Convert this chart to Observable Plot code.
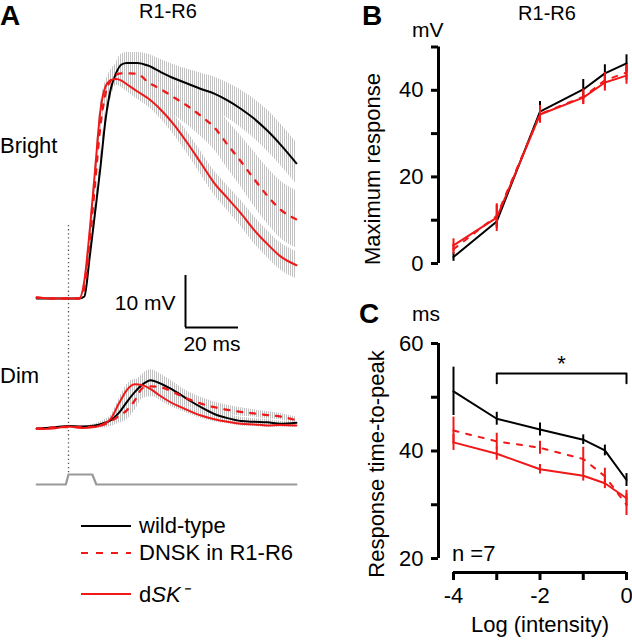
<!DOCTYPE html>
<html><head><meta charset="utf-8">
<script src="https://cdn.jsdelivr.net/npm/d3@7"></script>
<script src="https://cdn.jsdelivr.net/npm/@observablehq/plot@0.6"></script>
<style>
body{margin:0;background:#fff;}
#fig{position:relative;width:632px;height:640px;overflow:hidden;font-family:"Liberation Sans",Arial,sans-serif;}
#fig > svg{position:absolute;}
</style></head><body><div id="fig"></div>
<script>
// ---------- Panel A: averaged voltage traces (ms, mV) ----------
const brightT   = [-12, -6, 0, 4, 6, 8, 10, 12, 14, 16, 18, 20, 22, 26, 30, 35, 40, 45, 50, 55, 60, 65, 70, 75, 80, 86];
const wtBright  = [0, 0, 0, 0, 0.4, 8, 16.4, 25, 34.5, 40.4, 43.4, 45, 45.3, 45.3, 44.8, 43.5, 42.3, 41.3, 40.3, 39.4, 38.1, 36.5, 34.6, 32.3, 29.6, 26];
const wtBrightSem = [0, 0, 0, 0, 0.3, 1.5, 2, 2, 2, 2, 2, 2, 2, 2, 2.2, 2.4, 2.6, 2.8, 3, 3.2, 3.4, 3.6, 3.8, 4, 4, 4];
const dnskBright = [0.2, 0, 0, 0, 2, 11, 22, 33, 39.5, 42, 43, 43.3, 43.3, 43.2, 41.6, 40.2, 38.6, 37.0, 35.1, 32.9, 29.6, 26.4, 23.0, 19.8, 17.1, 15.2];
const dnskBrightSem = [0, 0, 0, 0, 0.5, 1.5, 2, 2, 2, 2, 2, 2, 2.2, 2.5, 2.8, 3.1, 3.4, 3.7, 4, 4.3, 4.6, 4.9, 5.2, 5.4, 5.5, 5.5];
const skBright  = [0.2, 0, 0, 0, 3.5, 13, 24.5, 36, 40.8, 42, 42.2, 41.9, 41.2, 39.8, 38.5, 36.2, 33.3, 29.8, 26.0, 22.2, 19.3, 16.4, 13.2, 10.5, 8.1, 6.4];
const skBrightSem = [0, 0, 0, 0, 0.3, 1, 1, 1, 1, 1, 1.2, 1.3, 1.4, 1.5, 1.6, 1.8, 2, 2.1, 2.2, 2.3, 2.4, 2.5, 2.6, 2.6, 2.6, 2.6];

const dimT   = [-12, -6, 0, 5, 10, 13, 16, 19, 22, 25, 28, 31, 34, 38, 42, 46, 50, 55, 60, 65, 70, 75, 80, 86];
const wtDim  = [-0.2, 0, 0.3, 0.2, 0.4, 0.8, 1.4, 2.8, 4.9, 6.8, 8.3, 9.1, 8.6, 7.6, 6.4, 5.1, 3.9, 2.6, 1.8, 1.25, 1.1, 1.0, 0.7, 0.9];
const wtDimSem = [0, 0, 0, 0, 0.3, 0.5, 0.8, 1.2, 1.6, 1.8, 2, 2, 1.9, 1.7, 1.5, 1.3, 1.1, 0.9, 0.8, 0.7, 0.6, 0.6, 0.5, 0.5];
const dnskDim = [-0.2, 0, 0.1, 0.1, 0.2, 0.5, 1.2, 2.2, 3.3, 5.2, 7.6, 7.9, 7.8, 7.2, 6.2, 5.3, 4.6, 3.9, 3.4, 3.0, 2.7, 2.4, 2.1, 1.4];
const dnskDimSem = [0, 0, 0, 0, 0.3, 0.6, 1, 1.4, 1.8, 2, 2, 2, 1.9, 1.8, 1.6, 1.4, 1.2, 1, 0.9, 0.8, 0.7, 0.7, 0.6, 0.6];
const skDim  = [-0.3, -0.2, 0.2, -0.1, 0.1, 0.6, 1.7, 4.6, 7.2, 8.3, 8.1, 7.4, 6.3, 5.0, 4.0, 3.1, 2.3, 1.6, 1.1, 0.7, 0.6, 0.4, 0.5, 0.4];
const skDimSem = [0, 0, 0, 0, 0.2, 0.4, 0.6, 0.8, 1, 1, 1, 1, 0.9, 0.8, 0.7, 0.6, 0.5, 0.5, 0.4, 0.4, 0.4, 0.4, 0.4, 0.4];

// light stimulus (on = 1)
const stimT  = [-12, -1, 0, 9, 10.5, 86];
const stimOn = [0, 0, 1, 1, 0, 0];
const scaleBar = {ms: 20, mV: 10};

// ---------- Panels B and C ----------
const logIntensity = [-4, -3, -2, -1, -0.5, 0];
const maxWT   = [1.5, 9.7, 35.1, 40.2, 43.9, 46.2];
const maxWTSem = [1.0, 1.5, 2.3, 2.3, 2.0, 2.0];
const maxDNSK = [3.3, 11.0, 34.5, 38.5, 42.3, 44.1];
const maxDNSKSem = [1.2, 2.5, 2.0, 1.8, 1.8, 1.8];
const maxSK   = [4.2, 10.6, 34.4, 38.3, 41.8, 43.4];
const maxSKSem = [1.5, 3.2, 2.0, 1.5, 2.0, 2.0];

const ttpWT   = [51.1, 46.0, 44.0, 42.1, 40.1, 34.6];
const ttpWTSem = [4.5, 1.2, 1.2, 0.9, 1.0, 1.2];
const ttpDNSK = [43.8, 41.8, 40.6, 38.5, 35.3, 30.0];
const ttpDNSKSem = [2.5, 1.5, 1.2, 2.2, 1.5, 2.0];
const ttpSK   = [41.6, 39.5, 36.6, 35.4, 34.0, 31.2];
const ttpSKSem = [1.5, 1.2, 0.9, 1.0, 1.0, 1.5];

const bTicks = [0, 10, 20, 30, 40, 50];
const cTicks = [20, 30, 40, 50, 60];
const cXTicks = [-4, -3, -2, -1, 0];
const signif = {from: -3, to: 0, level: 54.4, label: "*"};

// ---------- styles ----------
const RED = "#f01818", BLACK = "#000";
const DASH = "5,8";
const FONT = '"Liberation Sans", Arial, sans-serif';
const baseStyle = {background: "transparent", overflow: "visible", fontFamily: FONT, fontSize: "22px", color: "#000"};
const fig = document.getElementById("fig");
function place(svg, left, top){ svg.style.position="absolute"; svg.style.left=left+"px"; svg.style.top=top+"px"; fig.appendChild(svg); return svg; }

// ---------- Panel A ----------
const A = {w: 320, h: 640, flashX: 68, brightY: 298, dimY: 427, stimY: 484, pxPerMs: 2.65, pxPerMv: 5.2};
const dimShift = -(A.dimY - A.brightY) / A.pxPerMv;
const stimShift = -(A.stimY - A.brightY) / A.pxPerMv;
const stimAmp = 10 / A.pxPerMv;
function rows(ts, vs, ss, key, shift){ return ts.map((t,i)=>({t, y: vs[i]+shift, lo: vs[i]-ss[i]+shift, hi: vs[i]+ss[i]+shift, key})); }
const wtB = rows(brightT, wtBright, wtBrightSem, "wtB", 0);
const dnB = rows(brightT, dnskBright, dnskBrightSem, "dnB", 0);
const skB = rows(brightT, skBright, skBrightSem, "skB", 0);
const wtD = rows(dimT, wtDim, wtDimSem, "wtD", dimShift);
const dnD = rows(dimT, dnskDim, dnskDimSem, "dnD", dimShift);
const skD = rows(dimT, skDim, skDimSem, "skD", dimShift);
const stimRows = stimT.map((t,i)=>({t, y: stimShift + stimOn[i]*stimAmp}));
const onset = stimT[stimOn.indexOf(1)];
const bar = {t: (185 - A.flashX)/A.pxPerMs, v: (A.brightY - 327)/A.pxPerMv};
const curve = "monotone-x";

const plotA = Plot.plot({
  width: A.w, height: A.h, margin: 0,
  x: {domain: [-A.flashX/A.pxPerMs, (A.w - A.flashX)/A.pxPerMs], axis: null},
  y: {domain: [-(A.h - A.brightY)/A.pxPerMv, A.brightY/A.pxPerMv], axis: null},
  style: baseStyle,
  marks: [
    Plot.areaY([...wtB, ...dnB, ...skB, ...wtD, ...dnD, ...skD], {x: "t", y1: "lo", y2: "hi", z: "key", fill: "url(#hatch)", curve}),
    Plot.ruleX([onset], {y1: (A.brightY - 225)/A.pxPerMv, y2: stimShift + stimAmp, stroke: "#555", strokeWidth: 1.3, strokeDasharray: "1.3,2.8"}),
    Plot.line(stimRows, {x: "t", y: "y", stroke: "#999", strokeWidth: 2.2}),
    Plot.line(wtB, {x: "t", y: "y", stroke: BLACK, strokeWidth: 2, curve}),
    Plot.line(wtD, {x: "t", y: "y", stroke: BLACK, strokeWidth: 2, curve}),
    Plot.line(dnB, {x: "t", y: "y", stroke: RED, strokeWidth: 2.3, strokeDasharray: DASH, curve}),
    Plot.line(dnD, {x: "t", y: "y", stroke: RED, strokeWidth: 2.3, strokeDasharray: DASH, curve}),
    Plot.line(skB, {x: "t", y: "y", stroke: RED, strokeWidth: 2, curve}),
    Plot.line(skD, {x: "t", y: "y", stroke: RED, strokeWidth: 2, curve}),
    // scale bar
    Plot.ruleX([scaleBar], {x: () => bar.t, y1: () => bar.v, y2: d => bar.v + d.mV, stroke: BLACK, strokeWidth: 2}),
    Plot.ruleY([scaleBar], {y: () => bar.v, x1: () => bar.t, x2: d => bar.t + d.ms, stroke: BLACK, strokeWidth: 2}),
    Plot.text([scaleBar], {x: () => bar.t, y: d => bar.v + d.mV/2, text: d => `${d.mV} mV`, textAnchor: "end", dx: -10, dy: 2, fontSize: 21}),
    Plot.text([scaleBar], {x: d => bar.t + d.ms/2, y: () => bar.v, text: d => `${d.ms} ms`, dy: 17, fontSize: 21})
  ]
});
place(plotA, 0, 0);
// hatch pattern for the SEM bars
(function(){
  const NS = "http://www.w3.org/2000/svg";
  const defs = document.createElementNS(NS, "defs");
  const pat = document.createElementNS(NS, "pattern");
  pat.setAttribute("id", "hatch"); pat.setAttribute("patternUnits", "userSpaceOnUse");
  pat.setAttribute("width", "2"); pat.setAttribute("height", "8");
  const r = document.createElementNS(NS, "rect");
  r.setAttribute("x", "0"); r.setAttribute("y", "0"); r.setAttribute("width", "1"); r.setAttribute("height", "8"); r.setAttribute("fill", "#c2c2c2");
  pat.appendChild(r); defs.appendChild(pat); plotA.insertBefore(defs, plotA.firstChild);
})();

// ---------- helper for B and C ----------
function series(vals, sems, key){ return logIntensity.map((x,i)=>({x, y: vals[i], lo: vals[i]-sems[i], hi: vals[i]+sems[i], key})); }

// ---------- Panel B ----------
const B = {w: 312, h: 300, ml: 118, mr: 6, mt: 46.5, mb: 37, pxPerUnit: 43.25, axisGap: 15};
const bXDomain = [logIntensity[0] - B.axisGap/B.pxPerUnit, logIntensity[logIntensity.length-1]];
const bWT = series(maxWT, maxWTSem, "wt"), bDN = series(maxDNSK, maxDNSKSem, "dn"), bSK = series(maxSK, maxSKSem, "sk");
const plotB = Plot.plot({
  width: B.w, height: B.h, marginLeft: B.ml, marginRight: B.mr, marginTop: B.mt, marginBottom: B.mb,
  x: {domain: bXDomain, axis: null},
  y: {domain: [bTicks[0], bTicks[bTicks.length-1]]},
  style: baseStyle,
  marks: [
    Plot.ruleX([bXDomain[0]], {y1: bTicks[0], y2: bTicks[bTicks.length-1], stroke: BLACK, strokeWidth: 3}),
    Plot.axisY({ticks: bTicks, tickSize: 7, tickPadding: 8, strokeWidth: 3, label: null, fontSize: 22, tickFormat: d => d % 20 === 0 ? String(d) : ""}),
    Plot.ruleX(bWT, {x: "x", y1: "lo", y2: "hi", stroke: BLACK, strokeWidth: 2}),
    Plot.line(bWT, {x: "x", y: "y", stroke: BLACK, strokeWidth: 2}),
    Plot.ruleX(bDN, {x: "x", y1: "lo", y2: "hi", stroke: RED, strokeWidth: 2}),
    Plot.line(bDN, {x: "x", y: "y", stroke: RED, strokeWidth: 2, strokeDasharray: DASH}),
    Plot.ruleX(bSK, {x: "x", y1: "lo", y2: "hi", stroke: RED, strokeWidth: 2}),
    Plot.line(bSK, {x: "x", y: "y", stroke: RED, strokeWidth: 2})
  ]
});
place(plotB, 320, 0);

// ---------- Panel C ----------
const C = {w: 312, h: 350, ml: 118, mr: 6, mt: 53, mb: 68, pxPerUnit: 43.25, axisGap: 15, pxPerMs: 5.376, xAxisGap: 14};
const cXDomain = [logIntensity[0] - C.axisGap/C.pxPerUnit, logIntensity[logIntensity.length-1]];
const cYDomain = [cTicks[0] - C.xAxisGap/C.pxPerMs, cTicks[cTicks.length-1]];
const cWT = series(ttpWT, ttpWTSem, "wt"), cDN = series(ttpDNSK, ttpDNSKSem, "dn"), cSK = series(ttpSK, ttpSKSem, "sk");
const bracket = [
  {x: signif.from, y: signif.level - 1.8}, {x: signif.from, y: signif.level},
  {x: signif.to, y: signif.level}, {x: signif.to, y: signif.level - 1.8}
];
const plotC = Plot.plot({
  width: C.w, height: C.h, marginLeft: C.ml, marginRight: C.mr, marginTop: C.mt, marginBottom: C.mb,
  x: {domain: cXDomain},
  y: {domain: cYDomain},
  style: baseStyle,
  marks: [
    Plot.ruleX([cXDomain[0]], {y1: cTicks[0], y2: cTicks[cTicks.length-1], stroke: BLACK, strokeWidth: 3}),
    Plot.axisY({ticks: cTicks, tickSize: 7, tickPadding: 8, strokeWidth: 3, label: null, fontSize: 22, tickFormat: d => d % 20 === 0 ? String(d) : ""}),
    Plot.ruleY([cYDomain[0]], {x1: cXTicks[0], x2: cXTicks[cXTicks.length-1], stroke: BLACK, strokeWidth: 3}),
    Plot.axisX({ticks: cXTicks, tickSize: 8, tickPadding: 7, strokeWidth: 3, label: null, fontSize: 22, tickFormat: d => d % 2 === 0 ? String(d) : ""}),
    Plot.line(bracket, {x: "x", y: "y", stroke: BLACK, strokeWidth: 2}),
    Plot.text([signif], {x: d => (d.from + d.to)/2, y: "level", text: "label", dy: -10, fontSize: 22}),
    Plot.ruleX(cWT, {x: "x", y1: "lo", y2: "hi", stroke: BLACK, strokeWidth: 2}),
    Plot.line(cWT, {x: "x", y: "y", stroke: BLACK, strokeWidth: 2}),
    Plot.ruleX(cDN, {x: "x", y1: "lo", y2: "hi", stroke: RED, strokeWidth: 2}),
    Plot.line(cDN, {x: "x", y: "y", stroke: RED, strokeWidth: 2, strokeDasharray: DASH}),
    Plot.ruleX(cSK, {x: "x", y1: "lo", y2: "hi", stroke: RED, strokeWidth: 2}),
    Plot.line(cSK, {x: "x", y: "y", stroke: RED, strokeWidth: 2})
  ]
});
place(plotC, 320, 290);

// ---------- text annotations and legend ----------
const overlay = `
<svg xmlns="http://www.w3.org/2000/svg" width="632" height="640" style="left:0;top:0;pointer-events:none;font-family:${FONT.replace(/"/g,"'")};">
  <g font-weight="bold" font-size="28">
    <text x="0" y="25">A</text>
    <text x="362" y="25">B</text>
    <text x="359" y="323">C</text>
  </g>
  <g font-size="20" text-anchor="middle">
    <text x="168" y="18">R1-R6</text>
    <text x="547" y="20">R1-R6</text>
  </g>
  <g font-size="22">
    <text x="0" y="153">Bright</text>
    <text x="0" y="383">Dim</text>
    <text x="412" y="37" font-size="21">mV</text>
    <text x="412" y="321" font-size="21">ms</text>
    <text x="452" y="561">n =7</text>
    <text x="540" y="632" text-anchor="middle">Log (intensity)</text>
    <text transform="translate(380,169) rotate(-90)" text-anchor="middle">Maximum response</text>
    <text transform="translate(384,464) rotate(-90)" text-anchor="middle">Response time-to-peak</text>
  </g>
  <g stroke-width="2.2">
    <line x1="81" x2="131" y1="526" y2="526" stroke="${BLACK}"/>
    <line x1="81" x2="131" y1="553" y2="553" stroke="${RED}" stroke-dasharray="7,8"/>
    <line x1="81" x2="131" y1="594" y2="594" stroke="${RED}"/>
  </g>
  <g font-size="22">
    <text x="139" y="533">wild-type</text>
    <text x="139" y="560">DNSK in R1-R6</text>
    <text x="139" y="602">d<tspan font-style="italic">SK⁻</tspan></text>
  </g>
</svg>`;
fig.insertAdjacentHTML("beforeend", overlay);
</script></body></html>
